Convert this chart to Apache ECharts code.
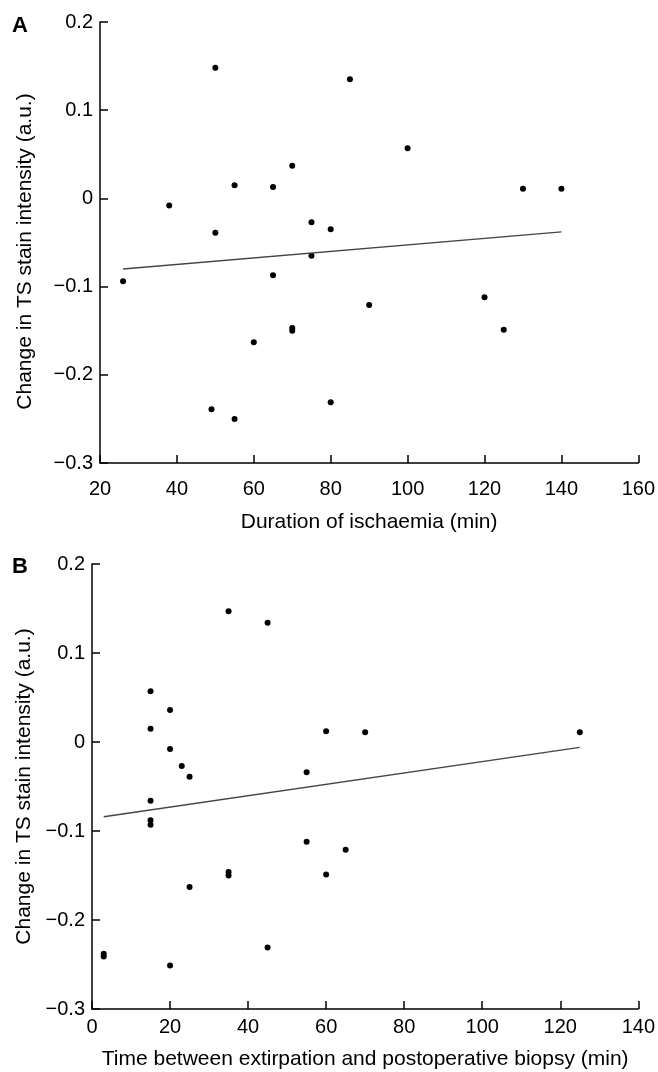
<!DOCTYPE html>
<html>
<head>
<meta charset="utf-8">
<script src="https://cdn.jsdelivr.net/npm/echarts@6.0.0/dist/echarts.min.js"></script>
<style>
  html, body { margin: 0; padding: 0; background: #fff; }
  #chart { width: 658px; height: 1072px; }
</style>
</head>
<body>
<div id="chart"></div>
<script>
// panel A: duration of ischaemia vs change in TS stain
const ischaemiaMin = [26, 38, 49, 50, 50, 55, 55, 60, 65, 65, 70, 70, 70, 75, 75, 80, 80, 85, 90, 100, 120, 125, 130, 140];
const changeA = [-0.094, -0.008, -0.239, 0.148, -0.039, 0.015, -0.250, -0.163, 0.013, -0.087, 0.037, -0.147, -0.150, -0.027, -0.065, -0.035, -0.231, 0.135, -0.121, 0.057, -0.112, -0.149, 0.011, 0.011];
const fitAx = [26, 140];
const fitAy = [-0.080, -0.038];

// panel B: time between extirpation and biopsy
const biopsyMin = [3, 3, 15, 15, 15, 15, 15, 20, 20, 20, 23, 25, 25, 35, 35, 35, 45, 45, 55, 55, 60, 60, 65, 70, 125];
const changeB = [-0.238, -0.241, 0.057, 0.015, -0.066, -0.088, -0.093, 0.036, -0.008, -0.251, -0.027, -0.039, -0.163, 0.147, -0.146, -0.150, 0.134, -0.231, -0.034, -0.112, 0.012, -0.149, -0.121, 0.011, 0.011];
const fitBx = [3, 125];
const fitBy = [-0.084, -0.006];

const panelLetters = ['A', 'B'];
const xTitles = ['Duration of ischaemia (min)', 'Time between extirpation and postoperative biopsy (min)'];
const yTitle = 'Change in TS stain intensity (a.u.)';

const font = 'Arial, "Liberation Sans", Helvetica, sans-serif';

const zip = (xs, ys) => xs.map((x, i) => [x, ys[i]]);

// minus sign like the print version
const fmtY = v => {
    if (Math.abs(v) < 1e-9) return '0';
    return (v < 0 ? '\u2212' : '') + Math.abs(v).toFixed(1);
};

const axisLine = { onZero: false, lineStyle: { color: '#000', width: 1.5 } };
const axisTick = { inside: true, length: 8, lineStyle: { color: '#000', width: 1.5 } };

function xAxisFor(idx, min, max, margin, gap) {
    return {
        type: 'value', gridIndex: idx, min: min, max: max, interval: 20,
        name: xTitles[idx], nameLocation: 'middle', nameGap: gap,
        nameTextStyle: { color: '#000', fontSize: 21, fontFamily: font },
        axisLine: axisLine, axisTick: axisTick, splitLine: { show: false },
        axisLabel: { color: '#000', fontSize: 20, fontFamily: font, margin: margin }
    };
}

function yAxisFor(idx, gap, pad) {
    return {
        type: 'value', gridIndex: idx, min: -0.3, max: 0.2, interval: 0.1,
        name: yTitle, nameLocation: 'middle', nameGap: gap,
        nameTextStyle: { color: '#000', fontSize: 21, fontFamily: font, padding: pad },
        axisLine: axisLine, axisTick: axisTick, splitLine: { show: false },
        axisLabel: { color: '#000', fontSize: 20, fontFamily: font, margin: 7, formatter: fmtY }
    };
}

function dots(idx, data) {
    return {
        type: 'scatter', xAxisIndex: idx, yAxisIndex: idx, data: data,
        symbolSize: 6, itemStyle: { color: '#000', opacity: 1 }, silent: true
    };
}

function fitLine(idx, data) {
    return {
        type: 'line', xAxisIndex: idx, yAxisIndex: idx, data: data,
        symbol: 'none', lineStyle: { color: '#444', width: 1.4 }, silent: true
    };
}

const chart = echarts.init(document.getElementById('chart'), null, { renderer: 'canvas' });
chart.setOption({
    backgroundColor: '#fff',
    animation: false,
    grid: [
        { left: 100, top: 22, width: 540, height: 441 },
        { left: 92, top: 564, width: 548, height: 445 }
    ],
    xAxis: [xAxisFor(0, 20, 160, 16, 49), xAxisFor(1, 0, 140, 8, 40)],
    yAxis: [yAxisFor(0, 64, [0, 18, 0, 0]), yAxisFor(1, 57, 0)],
    graphic: [
        { type: 'text', left: 12, top: 15, style: { text: panelLetters[0], font: 'bold 22px ' + font, fill: '#000' } },
        { type: 'text', left: 12, top: 556, style: { text: panelLetters[1], font: 'bold 22px ' + font, fill: '#000' } }
    ],
    series: [
        dots(0, zip(ischaemiaMin, changeA)),
        fitLine(0, zip(fitAx, fitAy)),
        dots(1, zip(biopsyMin, changeB)),
        fitLine(1, zip(fitBx, fitBy))
    ]
});
</script>
</body>
</html>
